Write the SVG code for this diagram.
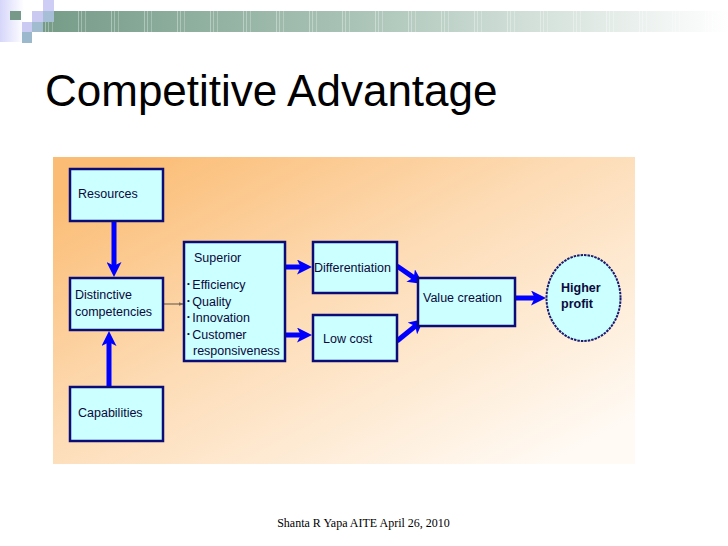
<svg xmlns="http://www.w3.org/2000/svg" width="728" height="546" viewBox="0 0 728 546">
  <defs>
    <linearGradient id="band" x1="0" y1="0" x2="1" y2="0">
      <stop offset="0" stop-color="#769c88"/>
      <stop offset="0.45" stop-color="#a9c3b6"/>
      <stop offset="1" stop-color="#ffffff"/>
    </linearGradient>
    <linearGradient id="lav" x1="0" y1="0" x2="1" y2="0">
      <stop offset="0" stop-color="#d6d6fa"/>
      <stop offset="1" stop-color="#ffffff"/>
    </linearGradient>
    <linearGradient id="panel" x1="0" y1="0.15" x2="0.85" y2="1">
      <stop offset="0" stop-color="#fbbd76"/>
      <stop offset="0.45" stop-color="#fddcb6"/>
      <stop offset="1" stop-color="#fffaf4"/>
    </linearGradient>
    <pattern id="tex" x="45" y="0" width="33" height="40" patternUnits="userSpaceOnUse">
      <rect x="0" y="0" width="1" height="40" fill="#ffffff" opacity="0.35"/>
      <rect x="3" y="0" width="1" height="40" fill="#ffffff" opacity="0.3"/>
      <rect x="7" y="0" width="1" height="40" fill="#ffffff" opacity="0.25"/>
    </pattern>
    <marker id="ah" viewBox="0 0 10 10" refX="4" refY="5" markerWidth="3" markerHeight="3" orient="auto">
      <path d="M0,0 L10,5 L0,10 L2.5,5 z" fill="#0000ff"/>
    </marker>
    <marker id="ahs" viewBox="0 0 10 10" refX="9" refY="5" markerWidth="4" markerHeight="4" orient="auto">
      <path d="M0,1 L10,5 L0,9 z" fill="#7a6858"/>
    </marker>
  </defs>
  <style>
    .box { fill: #ccffff; stroke: #0c0c78; stroke-width: 2.5; }
    .lbl { font-family: "Liberation Sans", Arial, sans-serif; font-size: 12.5px; fill: #0a0a3c; }
    .arr { stroke: #0000ff; stroke-width: 5; fill: none; marker-end: url(#ah); }
    .thin { stroke: #7a6858; stroke-width: 1.2; fill: none; marker-end: url(#ahs); }
  </style>

  <rect x="0" y="0" width="728" height="546" fill="#ffffff"/>

  <!-- header decoration -->
  <g id="header">
    <rect x="0" y="0" width="24" height="42" fill="url(#lav)"/>
    <rect x="43" y="11" width="685" height="21" fill="url(#band)"/>
    <rect x="43" y="11" width="685" height="21" fill="url(#tex)"/>
    <rect x="43" y="0" width="11" height="11" fill="#cdcdf5"/>
    <rect x="32" y="11" width="11" height="11" fill="#c9c9f2"/>
    <rect x="43" y="11" width="11" height="11" fill="#a6bfd6"/>
    <rect x="10" y="11" width="11" height="9" fill="#76998a"/>
    <rect x="22" y="22" width="10" height="10" fill="#cacaf2"/>
    <rect x="32" y="22" width="11" height="10" fill="#a2bccf"/>
    <rect x="22" y="32" width="10" height="11" fill="#9cb8cc"/>
  </g>

  <text x="45" y="106" font-family="'Liberation Sans', Arial, sans-serif" font-size="44" fill="#000000">Competitive Advantage</text>

  <!-- diagram panel -->
  <rect x="53" y="157" width="582" height="307" fill="url(#panel)"/>

  <g id="connectors">
    <line class="arr" x1="114" y1="222" x2="114" y2="268"/>
    <line class="arr" x1="109" y1="386" x2="109" y2="340"/>
    <line class="thin" x1="163" y1="304" x2="183" y2="304"/>
    <line class="arr" x1="286" y1="267" x2="303" y2="267"/>
    <line class="arr" x1="286" y1="335" x2="303" y2="335"/>
    <line class="arr" x1="397" y1="266" x2="415.6" y2="278.9"/>
    <line class="arr" x1="397" y1="341" x2="417" y2="324.7"/>
    <line class="arr" x1="516" y1="298" x2="537" y2="298"/>
  </g>

  <g id="resources">
    <rect class="box" x="70" y="169" width="93" height="52"/>
    <text class="lbl" x="78" y="198">Resources</text>
  </g>

  <g id="distinctive">
    <rect class="box" x="70" y="278" width="93" height="52"/>
    <text class="lbl" x="75" y="299">Distinctive</text>
    <text class="lbl" x="75" y="316">competencies</text>
  </g>

  <g id="capabilities">
    <rect class="box" x="70" y="387" width="93" height="54"/>
    <text class="lbl" x="78" y="417">Capabilities</text>
  </g>

  <g id="superior">
    <rect class="box" x="184" y="242" width="101" height="119"/>
    <text class="lbl" x="194" y="262" font-size="14">Superior</text>
    <text class="lbl" x="187" y="289"><tspan font-size="8" dy="-3">•</tspan><tspan dy="3" dx="2.5">Efficiency</tspan></text>
    <text class="lbl" x="187" y="305.5"><tspan font-size="8" dy="-3">•</tspan><tspan dy="3" dx="2.5">Quality</tspan></text>
    <text class="lbl" x="187" y="322"><tspan font-size="8" dy="-3">•</tspan><tspan dy="3" dx="2.5">Innovation</tspan></text>
    <text class="lbl" x="187" y="338.5"><tspan font-size="8" dy="-3">•</tspan><tspan dy="3" dx="2.5">Customer</tspan></text>
    <text class="lbl" x="193" y="355">responsiveness</text>
  </g>

  <g id="differentiation">
    <rect class="box" x="313" y="242" width="84" height="51"/>
    <text class="lbl" x="314" y="272">Differentiation</text>
  </g>

  <g id="lowcost">
    <rect class="box" x="313" y="315" width="84" height="46"/>
    <text class="lbl" x="323" y="343">Low cost</text>
  </g>

  <g id="valuecreation">
    <rect class="box" x="418" y="278" width="97" height="48"/>
    <text class="lbl" x="423" y="302">Value creation</text>
  </g>

  <g id="higherprofit">
    <ellipse cx="583.5" cy="298" rx="37" ry="43" fill="#ccffff" stroke="#1a1a70" stroke-width="2" stroke-dasharray="2.5 1"/>
    <text class="lbl" x="561" y="292" font-weight="bold" font-size="12">Higher</text>
    <text class="lbl" x="561" y="308" font-weight="bold" font-size="12">profit</text>
  </g>

  <text x="363.5" y="527" text-anchor="middle" font-family="'Liberation Serif', 'Times New Roman', serif" font-size="12" fill="#000000">Shanta R Yapa AITE April 26, 2010</text>
</svg>
